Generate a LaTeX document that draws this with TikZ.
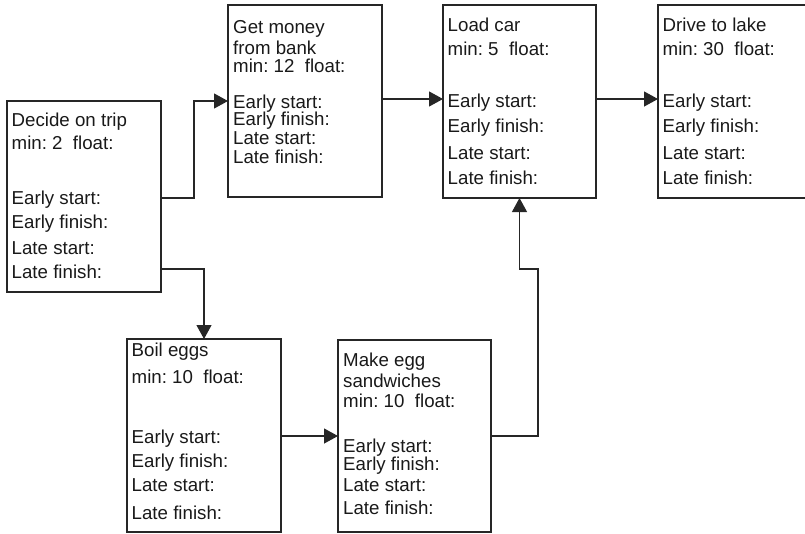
\documentclass[tikz,border=0pt]{standalone}
\usepackage{fontspec}
\setmainfont{Liberation Sans}
\usetikzlibrary{arrows.meta,calc}
\frenchspacing
\begin{document}
\begin{tikzpicture}[x=1pt,y=-1pt,
  task/.style={draw=black!85, line width=1.2pt, rectangle, anchor=north west,
               inner sep=0pt, outer sep=0pt},
  tline/.style={anchor=base west, inner sep=0pt, text=black!90,
                font=\fontsize{18.7}{18.7}\selectfont},
  link/.style={draw=black!85, line width=1.2pt,
               -{Triangle[length=14pt,width=15pt]}},
]
\useasboundingbox (0,0) rectangle (805,533);
\clip (0,0) rectangle (805,533);

% activity boxes
\node[task, minimum width=154pt, minimum height=191pt] (b1) at (7,101) {};
\node[task, minimum width=154pt, minimum height=192pt] (b2) at (228,5) {};
\node[task, minimum width=153pt, minimum height=193pt] (b3) at (443,5) {};
\node[task, minimum width=160pt, minimum height=193pt] (b4) at (658,5) {};
\node[task, minimum width=154pt, minimum height=193pt] (b5) at (127,339) {};
\node[task, minimum width=153pt, minimum height=192pt] (b6) at (338,340) {};

% box texts: offset below the top edge / text
\foreach \dy/\t [count=\i] in {25.5/Decide on trip, 48.5/min: 2\ \ float:,
    103.5/Early start:, 127.5/Early finish:, 153.5/Late start:, 177.5/Late finish:}
  \node[tline] (b1-\i) at ($(b1.north west)+(4.5,\dy)$) {\t};
\foreach \dy/\t [count=\i] in {28/Get money, 49/from bank, 67/min: 12\ \ float:,
    103/Early start:, 120/Early finish:, 139.5/Late start:, 158/Late finish:}
  \node[tline] (b2-\i) at ($(b2.north west)+(5,\dy)$) {\t};
\foreach \dy/\t [count=\i] in {26/Load car, 50/min: 5\ \ float:,
    102.5/Early start:, 127.5/Early finish:, 154/Late start:, 179/Late finish:}
  \node[tline] (b3-\i) at ($(b3.north west)+(4.5,\dy)$) {\t};
\foreach \dy/\t [count=\i] in {26/Drive to lake, 50/min: 30\ \ float:,
    102.5/Early start:, 127.5/Early finish:, 154/Late start:, 179/Late finish:}
  \node[tline] (b4-\i) at ($(b4.north west)+(4.5,\dy)$) {\t};
\foreach \dy/\t [count=\i] in {17/Boil eggs, 44/min: 10\ \ float:,
    104/Early start:, 128/Early finish:, 152.5/Late start:, 180/Late finish:}
  \node[tline] (b5-\i) at ($(b5.north west)+(4.5,\dy)$) {\t};
\foreach \dy/\t [count=\i] in {26.5/Make egg, 47.5/sandwiches, 67.5/min: 10\ \ float:,
    112.5/Early start:, 130.5/Early finish:, 151.5/Late start:, 174/Late finish:}
  \node[tline] (b6-\i) at ($(b6.north west)+(5,\dy)$) {\t};

% precedence links
\coordinate (j1) at ($(b1.north east)+(33,97)$);
\draw[link] ($(b1.north east)+(0,97)$) -- (j1) |- ($(b2.north west)+(0,96)$);
\draw[link] ($(b1.north east)+(0,168)$) -| (b5.north);
\draw[link] ($(b2.north east)+(0,94)$) -- ($(b3.north west)+(0,94)$);
\draw[link] ($(b3.north east)+(0,94)$) -- ($(b4.north west)+(0,94)$);
\draw[link] ($(b5.north east)+(0,97)$) -- ($(b6.north west)+(0,96)$);
\coordinate (j2) at ($(b6.north east)+(47,96)$);
\coordinate (j3) at ($(b3.south)+(0,71)$);
\draw[link] ($(b6.north east)+(0,96)$) -- (j2) |- (j3) -- (b3.south);
\end{tikzpicture}
\end{document}
